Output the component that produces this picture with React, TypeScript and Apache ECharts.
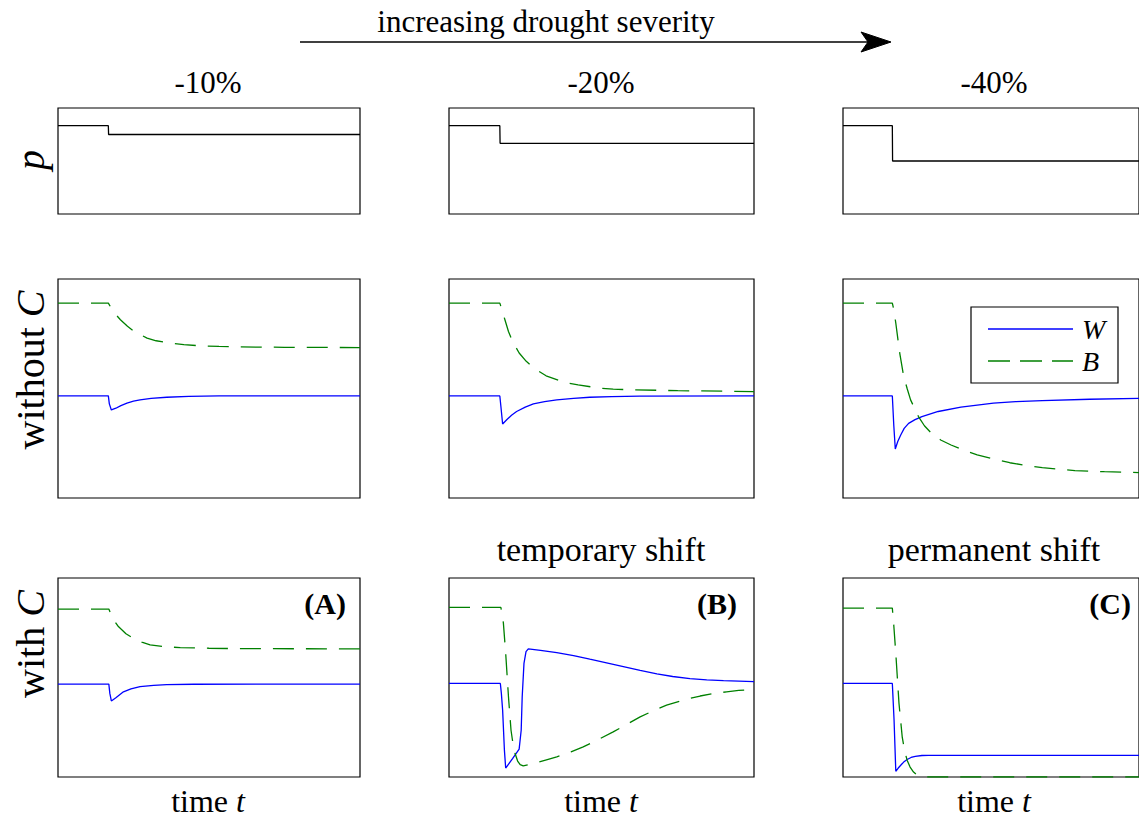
import React, { useEffect, useRef } from 'react';
import * as echarts from 'echarts';

type Pt = [number, number];

const T_MIN = 0;
const T_MAX = 60;
const COLUMN_TITLES = ['-10%', '-20%', '-40%'];
const SHIFT_LABELS = ['', 'temporary shift', 'permanent shift'];
const PANEL_TAGS = ['(A)', '(B)', '(C)'];
const LEGEND_NAMES = ['W', 'B'];

// row 1: precipitation p
const P_10: Pt[] = [[0, 1], [10, 1], [10.05, 0.9], [60, 0.9]];
const P_20: Pt[] = [[0, 1], [10, 1], [10.05, 0.8], [60, 0.8]];
const P_40: Pt[] = [[0, 1], [10, 1], [10.05, 0.6], [60, 0.6]];

// row 2: without C
const W_NOC_10: Pt[] = [[0, 0.466], [10, 0.466], [10.2, 0.43], [10.6, 0.402], [11.5, 0.41], [12.5, 0.422], [13.7, 0.433], [15, 0.442], [16.3, 0.448], [18.5, 0.455], [21.6, 0.46], [26, 0.464], [32, 0.466], [60, 0.466]];
const B_NOC_10: Pt[] = [[0, 0.89], [10, 0.89], [10.5, 0.87], [11.2, 0.845], [12.4, 0.814], [13.8, 0.784], [15.3, 0.758], [17.7, 0.73], [19.5, 0.718], [21.6, 0.71], [25, 0.7], [28.2, 0.695], [32, 0.692], [36, 0.69], [45, 0.688], [60, 0.687]];
const W_NOC_20: Pt[] = [[0, 0.466], [10, 0.466], [10.2, 0.42], [10.55, 0.338], [11.35, 0.357], [12.3, 0.378], [13.3, 0.395], [15, 0.415], [16.6, 0.43], [18.8, 0.44], [21.2, 0.448], [24.5, 0.455], [27.7, 0.46], [32, 0.463], [37.5, 0.465], [60, 0.466]];
const B_NOC_20: Pt[] = [[0, 0.89], [10, 0.89], [10.4, 0.86], [11, 0.814], [11.7, 0.76], [12.5, 0.715], [13.8, 0.662], [15.2, 0.624], [16.7, 0.593], [19.1, 0.558], [22.8, 0.527], [25.4, 0.517], [29.4, 0.502], [32.3, 0.497], [36.3, 0.494], [45, 0.49], [60, 0.486]];
const W_NOC_40: Pt[] = [[0, 0.466], [10, 0.466], [10.3, 0.33], [10.6, 0.224], [11.1, 0.258], [11.7, 0.288], [12.4, 0.318], [13.3, 0.341], [14.6, 0.358], [16, 0.372], [19.3, 0.395], [23.9, 0.415], [30.5, 0.433], [35, 0.44], [40.4, 0.445], [50, 0.451], [60, 0.455]];
const B_NOC_40: Pt[] = [[0, 0.89], [10, 0.89], [10.3, 0.86], [10.7, 0.799], [11.1, 0.73], [11.5, 0.662], [12.3, 0.555], [13, 0.5], [13.7, 0.448], [15.3, 0.372], [16.5, 0.33], [17.9, 0.296], [19.8, 0.265], [21.9, 0.242], [24.5, 0.218], [27.2, 0.197], [30.5, 0.178], [33.8, 0.161], [37, 0.149], [40.4, 0.139], [47, 0.125], [53, 0.12], [60, 0.116]];

// row 3: with C
const W_C_10: Pt[] = [[0, 0.467], [10.1, 0.467], [10.3, 0.42], [10.6, 0.382], [11.5, 0.398], [13, 0.428], [14.5, 0.443], [16.3, 0.454], [19, 0.46], [21.6, 0.464], [27, 0.466], [60, 0.467]];
const B_C_10: Pt[] = [[0, 0.844], [10.1, 0.844], [10.5, 0.82], [11.2, 0.784], [12, 0.756], [13.5, 0.72], [15.3, 0.692], [16.8, 0.676], [18.3, 0.664], [21, 0.655], [24.3, 0.65], [30, 0.647], [36, 0.645], [60, 0.644]];
const W_C_20: Pt[] = [[0, 0.47], [10.1, 0.47], [10.3, 0.42], [10.55, 0.336], [10.9, 0.135], [11.15, 0.045], [12.5, 0.092], [13.8, 0.14], [14.2, 0.235], [14.4, 0.403], [14.75, 0.571], [15.15, 0.63], [15.6, 0.644], [18, 0.636], [21.2, 0.625], [24.5, 0.61], [27.7, 0.592], [31, 0.574], [34.3, 0.555], [37.6, 0.536], [40.9, 0.518], [44, 0.505], [47.4, 0.494], [50.7, 0.488], [54, 0.484], [60, 0.479]];
const B_C_20: Pt[] = [[0, 0.852], [10.2, 0.852], [10.45, 0.82], [10.7, 0.773], [11.15, 0.622], [11.7, 0.403], [12.2, 0.235], [12.6, 0.165], [13, 0.118], [13.5, 0.08], [14, 0.062], [14.6, 0.056], [17, 0.07], [19, 0.085], [21.2, 0.101], [24, 0.126], [26.4, 0.151], [29.5, 0.19], [32.3, 0.227], [35, 0.265], [37.6, 0.302], [40.2, 0.333], [42.8, 0.361], [46, 0.386], [49.4, 0.407], [52, 0.419], [54.6, 0.428], [57, 0.435], [60, 0.44]];
const W_C_40: Pt[] = [[0, 0.47], [10, 0.47], [10.35, 0.286], [10.7, 0.029], [11.2, 0.045], [11.7, 0.059], [12.3, 0.075], [13, 0.088], [13.8, 0.098], [14.65, 0.104], [16, 0.108], [17.3, 0.109], [60, 0.109]];
const B_C_40: Pt[] = [[0, 0.849], [10, 0.849], [10.3, 0.76], [10.7, 0.622], [11.35, 0.37], [12, 0.202], [12.5, 0.13], [13, 0.084], [13.6, 0.05], [14.3, 0.025], [15, 0.01], [16, 0.002], [17, 0], [60, 0]];

const P_SERIES = [P_10, P_20, P_40];
const W_NOC = [W_NOC_10, W_NOC_20, W_NOC_40];
const B_NOC = [B_NOC_10, B_NOC_20, B_NOC_40];
const W_C = [W_C_10, W_C_20, W_C_40];
const B_C = [B_C_10, B_C_20, B_C_40];

const P_MAX = 1.2;
const STATE_MAX = 1;

// layout (pixels)
const COL_LEFT = [58, 449, 843];
const COL_WIDTH = [302, 305, 303];
const ROW_TOP = [108, 279, 578];
const ROW_HEIGHT = [106, 219, 199];
const COL_CENTER = [208, 601, 994];

const FONT = '"Liberation Serif", "Times New Roman", serif';
const BLUE = '#0000ff';
const GREEN = '#008000';
const DASH = [21, 12];

export default function App() {
  const ref = useRef<HTMLDivElement>(null);

  useEffect(() => {
    if (!ref.current) return;
    const chart = echarts.init(ref.current, undefined, { renderer: 'svg' });

    const grids: any[] = [];
    const xAxes: any[] = [];
    const yAxes: any[] = [];
    const series: any[] = [];

    for (let r = 0; r < 3; r++) {
      for (let c = 0; c < 3; c++) {
        const i = r * 3 + c;
        grids.push({
          left: COL_LEFT[c],
          top: ROW_TOP[r],
          width: COL_WIDTH[c],
          height: ROW_HEIGHT[r],
          show: true,
          borderColor: '#000',
          borderWidth: 1.2,
          backgroundColor: 'transparent',
        });
        xAxes.push({
          type: 'value', gridIndex: i, min: T_MIN, max: T_MAX,
          axisLine: { show: false }, axisTick: { show: false }, axisLabel: { show: false }, splitLine: { show: false },
        });
        yAxes.push({
          type: 'value', gridIndex: i, min: 0, max: r === 0 ? P_MAX : STATE_MAX,
          axisLine: { show: false }, axisTick: { show: false }, axisLabel: { show: false }, splitLine: { show: false },
        });
        const base = { type: 'line', xAxisIndex: i, yAxisIndex: i, symbol: 'none', showSymbol: false, smooth: false, silent: true };
        if (r === 0) {
          series.push({ ...base, name: 'p', data: P_SERIES[c], lineStyle: { color: '#000', width: 1.3 }, itemStyle: { color: '#000' } });
        } else {
          const W = r === 1 ? W_NOC[c] : W_C[c];
          const B = r === 1 ? B_NOC[c] : B_C[c];
          series.push({ ...base, name: 'W', data: W, lineStyle: { color: BLUE, width: 1.3 }, itemStyle: { color: BLUE } });
          series.push({ ...base, name: 'B', data: B, lineStyle: { color: GREEN, width: 1.3, type: DASH }, itemStyle: { color: GREEN } });
        }
      }
    }

    const graphic: any[] = [];
    // top arrow & label
    graphic.push({
      type: 'text', x: 546, y: 21,
      style: { text: 'increasing drought severity', font: `31px ${FONT}`, fill: '#000', align: 'center', verticalAlign: 'middle' },
    });
    graphic.push({ type: 'line', shape: { x1: 300, y1: 42, x2: 872, y2: 42 }, style: { stroke: '#000', lineWidth: 1.5 } });
    graphic.push({ type: 'polygon', shape: { points: [[891, 42], [861, 32], [868, 42], [861, 52]] }, style: { fill: '#000', stroke: '#000', lineWidth: 1 } });

    for (let c = 0; c < 3; c++) {
      graphic.push({
        type: 'text', x: COL_CENTER[c], y: 82,
        style: { text: COLUMN_TITLES[c], font: `31px ${FONT}`, fill: '#000', align: 'center', verticalAlign: 'middle' },
      });
      graphic.push({
        type: 'text', x: COL_CENTER[c], y: 801,
        style: {
          text: '{a|time }{b|t}', align: 'center', verticalAlign: 'middle',
          rich: {
            a: { fontFamily: FONT, fontSize: 32, lineHeight: 30, color: '#000' },
            b: { fontFamily: FONT, fontSize: 32, lineHeight: 30, fontStyle: 'italic', color: '#000' },
          },
        },
      });
      if (SHIFT_LABELS[c]) {
        graphic.push({
          type: 'text', x: COL_CENTER[c], y: 549,
          style: { text: SHIFT_LABELS[c], font: `34px ${FONT}`, fill: '#000', align: 'center', verticalAlign: 'middle' },
        });
      }
      graphic.push({
        type: 'text', x: COL_LEFT[c] + 288, y: 603,
        style: { text: PANEL_TAGS[c], font: `bold 30px ${FONT}`, fill: '#000', align: 'right', verticalAlign: 'middle' },
      });
    }

    // row labels (rotated)
    const rowLabels = [
      { y: 160, a: '', b: 'p' },
      { y: 370, a: 'without ', b: 'C' },
      { y: 644, a: 'with ', b: 'C' },
    ];
    rowLabels.forEach((l) => {
      graphic.push({
        type: 'text', x: 30, y: l.y, rotation: Math.PI / 2,
        style: {
          text: (l.a ? `{a|${l.a}}` : '') + `{b|${l.b}}`, align: 'center', verticalAlign: 'middle',
          rich: {
            a: { fontFamily: FONT, fontSize: 40, color: '#000' },
            b: { fontFamily: FONT, fontSize: 40, fontStyle: 'italic', color: '#000' },
          },
        },
      });
    });

    // legend box (panel without C, -40%)
    graphic.push({ type: 'rect', shape: { x: 971, y: 307, width: 147, height: 76 }, style: { fill: '#fff', stroke: '#000', lineWidth: 1.2 }, z: 10 });
    graphic.push({ type: 'line', shape: { x1: 988, y1: 329, x2: 1073, y2: 329 }, style: { stroke: BLUE, lineWidth: 1.3 }, z: 11 });
    graphic.push({ type: 'line', shape: { x1: 988, y1: 361, x2: 1073, y2: 361 }, style: { stroke: GREEN, lineWidth: 1.3, lineDash: [22, 10] }, z: 11 });
    graphic.push({ type: 'text', x: 1082, y: 329, style: { text: LEGEND_NAMES[0], font: `italic 28px ${FONT}`, fill: '#000', align: 'left', verticalAlign: 'middle' }, z: 11 });
    graphic.push({ type: 'text', x: 1082, y: 361, style: { text: LEGEND_NAMES[1], font: `italic 28px ${FONT}`, fill: '#000', align: 'left', verticalAlign: 'middle' }, z: 11 });

    chart.setOption({
      animation: false,
      backgroundColor: '#fff',
      grid: grids,
      xAxis: xAxes,
      yAxis: yAxes,
      series,
      graphic,
    });

    return () => chart.dispose();
  }, []);

  return (
    <div style={{ position: 'absolute', left: 0, top: 0, width: 1139, height: 818, background: '#fff' }}>
      <div ref={ref} style={{ width: 1139, height: 818 }} />
    </div>
  );
}
